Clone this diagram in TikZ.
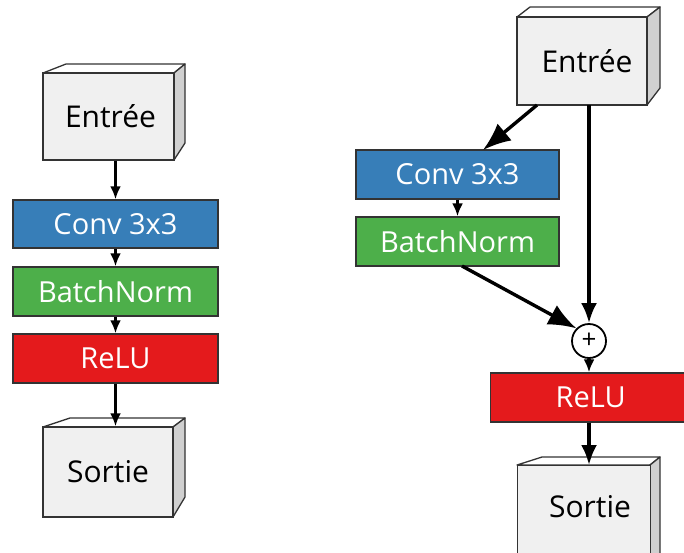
\documentclass[tikz,border=0pt]{standalone}
\usepackage{fontspec}
\setmainfont{Open Sans}
\usetikzlibrary{arrows.meta}
\definecolor{cblue}{HTML}{377EB8}
\definecolor{cgreen}{HTML}{4DAF4A}
\definecolor{cred}{HTML}{E41A1C}
\definecolor{cfront}{HTML}{F0F0F0}
\definecolor{cside}{HTML}{D0D0D0}
\definecolor{cedge}{HTML}{333333}
\tikzset{
  layer/.style={draw=cedge, line width=1.3pt, text=white, inner sep=0pt,
    font=\fontsize{29}{32}\selectfont},
  cube/.style={draw=cedge, line width=1.3pt, fill=cfront, text=black, inner sep=0pt,
    font=\fontsize{30}{32}\selectfont},
  face/.style={draw=cedge, line width=1.3pt, line join=round},
  conn/.style={line width=3.4pt, draw=black},
  tipS/.style={-{Latex[length=13pt,width=11pt]}},
  tipM/.style={-{Latex[length=20pt,width=16pt]}},
  tipL/.style={-{Latex[length=28pt,width=22pt]}},
}
\begin{document}
\begin{tikzpicture}[x=1pt,y=-1pt]
\useasboundingbox (0,0) rectangle (684,552);
% ---------- left column ----------
\draw[face, fill=white] (43,73) -- (66,64) -- (185,64) -- (174,73) -- cycle;
\draw[face, fill=cside] (174,73) -- (185,64) -- (185,143) -- (174,160) -- cycle;
\node[cube, minimum width=131pt, minimum height=87pt] (inL) at (108.5,116.5) {\hspace*{4pt}Entrée};

\node[layer, fill=cblue, minimum width=205pt, minimum height=48pt] (convL) at (115.5,224) {Conv 3x3};
\node[layer, fill=cgreen, minimum width=205pt, minimum height=49pt] (bnL) at (115.5,291.5) {BatchNorm};
\node[layer, fill=cred, minimum width=205pt, minimum height=49pt] (reluL) at (115.5,358.5) {ReLU};

\draw[face, fill=white] (43,427) -- (70,418) -- (185,418) -- (173,427) -- cycle;
\draw[face, fill=cside] (173,427) -- (185,418) -- (185,497) -- (173,517) -- cycle;
\node[cube, minimum width=130pt, minimum height=90pt] (outL) at (108,472) {Sortie};

\draw[conn, tipS] (inL.south -| convL.north) -- (convL.north);
\draw[conn, tipS] (convL.south) -- (bnL.north);
\draw[conn, tipS] (bnL.south) -- (reluL.north);
\draw[conn, tipS] (reluL.south) -- (reluL.south |- outL.north);

% ---------- right column ----------
\draw[face, fill=white] (517,17) -- (530,7) -- (660,7) -- (647,17) -- cycle;
\draw[face, fill=cside] (647,17) -- (660,7) -- (660,88) -- (647,105) -- cycle;
\node[cube, minimum width=130pt, minimum height=88pt] (inR) at (582,61) {\hspace*{10pt}Entrée};

\node[layer, fill=cblue, minimum width=203pt, minimum height=49pt] (convR) at (457.5,174.5) {Conv 3x3};
\node[layer, fill=cgreen, minimum width=203pt, minimum height=49pt] (bnR) at (457.5,241.5) {BatchNorm};

\node[draw=black, line width=1.8pt, fill=white, circle, minimum size=34pt, inner sep=0pt,
  font=\fontsize{26}{26}\selectfont] (plus) at (589,341) {\raisebox{1pt}{+}};

\node[layer, fill=cred, minimum width=200pt, minimum height=49pt, anchor=west] (reluR) at (490,397.5) {ReLU};

\begin{scope}
\clip (400,440) rectangle (684,552);
\draw[face, fill=white] (517,465) -- (542,457) -- (660,457) -- (650,465) -- cycle;
\draw[face, fill=cside] (650,465) -- (660,457) -- (660,560) -- (650,575) -- cycle;
\node[cube, minimum width=133pt, minimum height=110pt, anchor=north west] (outR) at (517,465) {};
\node[text=black, font=\fontsize{30}{32}\selectfont] (outRt) at (590,507) {Sortie};
\end{scope}

\coordinate (inRa) at (537,105);
\coordinate (convRa) at (483,150);
\coordinate (inRb) at (589,105);
\coordinate (bnRa) at (462,266);
\draw[conn, tipL] (inRa) -- (convRa);
\draw[conn, tipS] (convR.south) -- (bnR.north);
\draw[conn, tipM] (inRb) -- (inRb |- plus.north);
\draw[conn, tipL] (bnRa) -- (plus.north west);
\draw[conn, tipS] (plus.south) -- (plus.south |- reluR.north);
\draw[conn, tipM] (plus.south |- reluR.south) -- (plus.south |- outR.north);
\end{tikzpicture}
\end{document}
